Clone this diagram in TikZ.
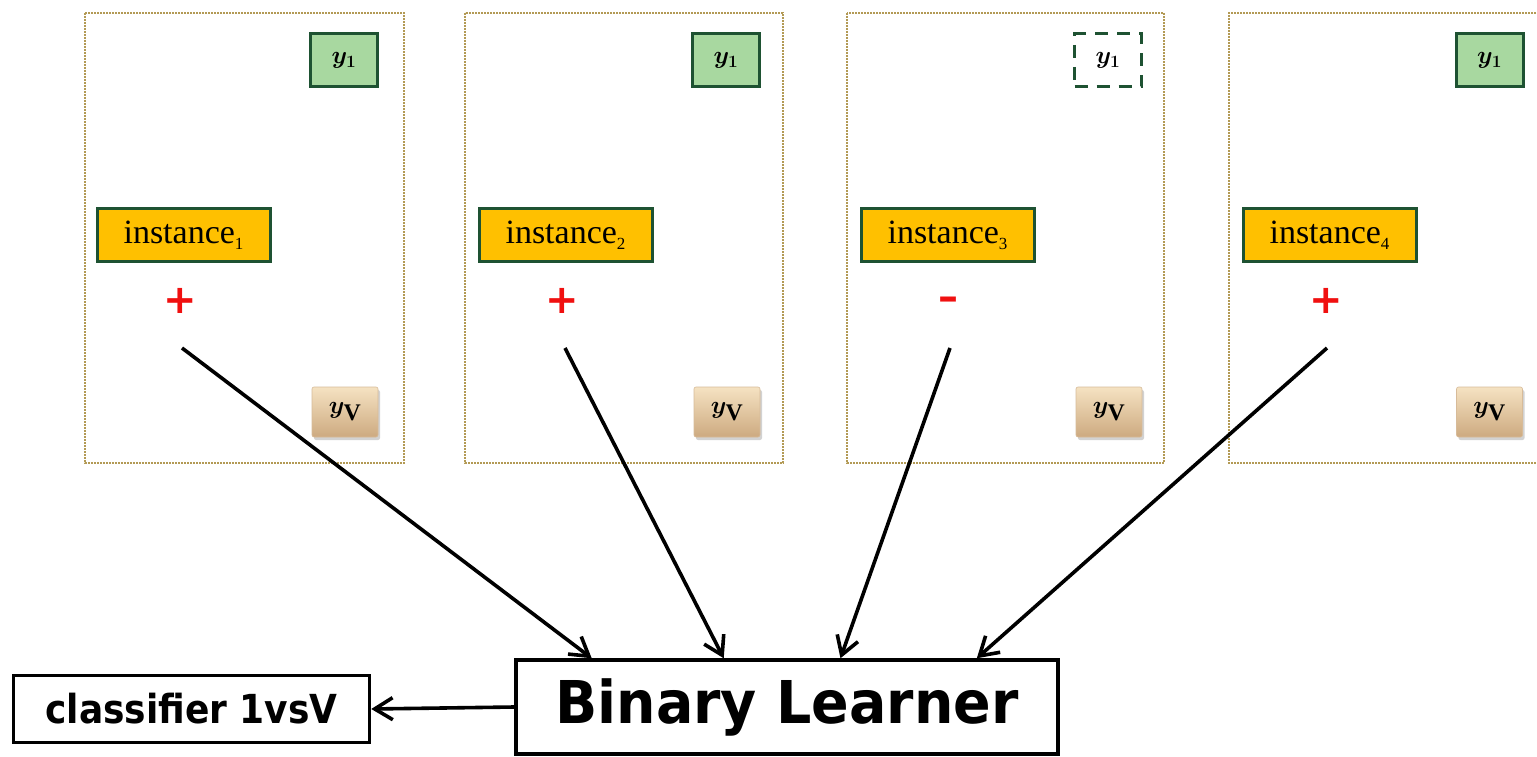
\documentclass[tikz,border=0pt]{standalone}
\usepackage{fontspec}
\setmainfont{Liberation Serif}
\newfontfamily\handfont{DejaVu Sans Bold}
\newfontfamily\signfont{DejaVu Sans Bold}
\usetikzlibrary{arrows.meta,shadows,calc}

\definecolor{panelc}{HTML}{B39A55}
\definecolor{dkgreen}{HTML}{1E5232}
\definecolor{ltgreen}{HTML}{A8D8A0}
\definecolor{instfill}{HTML}{FFC000}
\definecolor{tantop}{HTML}{F5E2C2}
\definecolor{tanbot}{HTML}{CDAA80}
\definecolor{signred}{HTML}{F01010}

\newcommand{\instsub}[1]{\raisebox{-6pt}{\fontsize{17}{17}\selectfont #1}}

\tikzset{
  panel/.style={draw=panelc, line width=2.8pt, dash pattern=on 1.8pt off 1.2pt},
  ybox/.style={draw=dkgreen, fill=ltgreen, line width=3pt, minimum width=67pt,
    minimum height=53pt, inner sep=0pt, font=\fontsize{34}{36}\selectfont\boldmath},
  yboxopen/.style={ybox, fill=none, dash pattern=on 13pt off 9pt},
  yvbox/.style={top color=tantop, bottom color=tanbot, draw=tanbot!80!white,
    line width=0.6pt, rounded corners=2pt, minimum width=66pt, minimum height=50pt,
    inner sep=0pt, drop shadow={opacity=0.35, shadow xshift=2pt, shadow yshift=-3pt},
    font=\fontsize{34}{36}\selectfont\boldmath},
  instbox/.style={draw=dkgreen, fill=instfill, line width=3pt, minimum width=173pt,
    minimum height=53pt, inner sep=0pt, font=\fontsize{34}{36}\selectfont},
  sign/.style={text=signred, inner sep=0pt, font=\signfont\fontsize{40}{40}\selectfont},
  learnbox/.style={draw=black, line width=3.5pt, minimum width=542pt, minimum height=94pt,
    inner sep=0pt},
  outbox/.style={draw=black, line width=3.5pt, minimum width=356pt, minimum height=67pt,
    inner sep=0pt},
  feed/.style={draw=black, line width=3.6pt, -{Straight Barb[length=18pt,width=22pt,line width=3.6pt]}},
}

\begin{document}
\begin{tikzpicture}[x=1pt,y=-1pt]
\useasboundingbox (0,0) rectangle (1537,757);
\fill[white] (0,0) rectangle (1537,757);

% four training panels
\draw[panel] (85,13) rectangle (404,463);
\draw[panel] (465,13) rectangle (783,463);
\draw[panel] (847,13) rectangle (1164,463);
\draw[panel] (1560,13) -- (1229,13) -- (1229,463) -- (1560,463);

% label boxes y_1 (top) and y_V (bottom)
\node[ybox] (ya) at (344,60.5) {$y_{\scriptscriptstyle 1}$};
\node[ybox] (yb) at (726,60.5) {$y_{\scriptscriptstyle 1}$};
\node[yboxopen] (yc) at (1108,60.5) {$y_{\scriptscriptstyle 1}$};
\node[ybox] (yd) at (1489.5,60.5) {$y_{\scriptscriptstyle 1}$};

\node[yvbox] (va) at (345,412) {$y_{\mathrm{V}}$};
\node[yvbox] (vb) at (727,412) {$y_{\mathrm{V}}$};
\node[yvbox] (vc) at (1109,412) {$y_{\mathrm{V}}$};
\node[yvbox] (vd) at (1489.5,412) {$y_{\mathrm{V}}$};

% instances
\node[instbox] (ia) at (183.5,235) {instance\instsub{1}};
\node[instbox] (ib) at (565.5,235) {instance\instsub{2}};
\node[instbox] (ic) at (947.5,235) {instance\instsub{3}};
\node[instbox] (id) at (1329.5,235) {instance\instsub{4}};

% signs of each instance for the binary problem
\node[sign] (pa) at (180,301) {+};
\node[sign] (pb) at (562,301) {+};
\node[sign] (pc) at (948,304) {\textendash};
\node[sign] (pd) at (1326,301) {+};

% learner and its output
\node[learnbox] (learn) at (787,707) {\handfont\scalebox{0.94}[1]{\fontsize{59}{62}\selectfont Binary Learner}};
\node[outbox] (clf) at (191.5,709) {\handfont\scalebox{0.9}[1]{\fontsize{40}{42}\selectfont classifier 1vsV}};

% arrow tails below the signs
\coordinate (sa) at (182,348);
\coordinate (sb) at (565,348);
\coordinate (sc) at (950,348);
\coordinate (sd) at (1327,348);

\draw[feed] (sa) -- ($(learn.north west)!0.142!(learn.north east)$);
\draw[feed] (sb) -- ($(learn.north west)!0.384!(learn.north east)$);
\draw[feed] (sc) -- ($(learn.north west)!0.598!(learn.north east)$);
\draw[feed] (sd) -- ($(learn.north west)!0.848!(learn.north east)$);

\draw[feed] (learn.west) -- (clf.east);
\end{tikzpicture}
\end{document}
